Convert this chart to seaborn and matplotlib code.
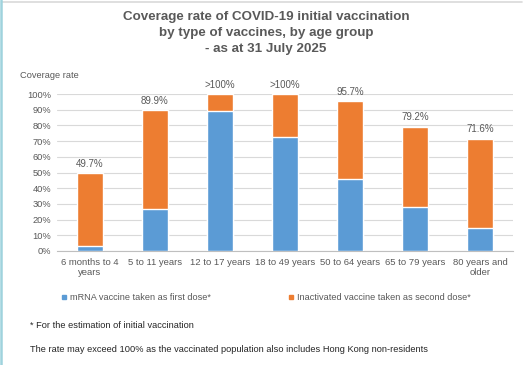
import numpy as np
import pandas as pd
import seaborn as sns
import matplotlib.pyplot as plt
import matplotlib.ticker as ticker
from matplotlib.lines import Line2D

# data
age_groups = ["6 months to 4\nyears", "5 to 11 years", "12 to 17 years", "18 to 49 years",
              "50 to 64 years", "65 to 79 years", "80 years and\nolder"]
total_rate = [49.7, 89.9, 100.0, 100.0, 95.7, 79.2, 71.6]
mrna_rate = [3.5, 26.6, 89.2, 72.4, 45.7, 27.8, 14.8]
total_labels = ["49.7%", "89.9%", ">100%", ">100%", "95.7%", "79.2%", "71.6%"]

blue = "#5B9BD5"
orange = "#ED7D31"
grey_text = "#595959"

sns.set_style("white")
plt.rcParams['font.family'] = ['Liberation Sans', 'DejaVu Sans']

W, H = 532, 365
fig = plt.figure(figsize=(W / 100, H / 100), dpi=100)


def px(x0, y0, x1, y1):
    return [x0 / W, 1 - y1 / H, (x1 - x0) / W, (y1 - y0) / H]


ax = fig.add_axes(px(57, 94, 513, 251))

df = pd.DataFrame({"age": age_groups, "total": total_rate, "mrna": mrna_rate})
sns.barplot(data=df, x="age", y="total", color=orange, width=0.4, saturation=1, ax=ax, zorder=2)
sns.barplot(data=df, x="age", y="mrna", color=blue, width=0.4, saturation=1, ax=ax, zorder=3)

ax.bar_label(ax.containers[0], labels=total_labels, padding=3, fontsize=7, color=grey_text)

ax.set_ylim(0, 100)
ax.set_xlim(-0.5, len(age_groups) - 0.5)
ax.yaxis.set_major_locator(ticker.MultipleLocator(10))
ax.yaxis.set_major_formatter(ticker.FuncFormatter(lambda v, p: f"{int(v)}%"))
ax.grid(axis="y", color="#d9d9d9", linewidth=0.8, zorder=0)
ax.set_axisbelow(True)
ax.set_xlabel("")
ax.set_ylabel("")
for s in ["top", "right", "left"]:
    ax.spines[s].set_visible(False)
ax.spines["bottom"].set_color("#bfbfbf")
ax.spines["bottom"].set_linewidth(0.8)
ax.tick_params(axis="y", length=0, labelsize=6.7, labelcolor=grey_text, pad=4)
ax.tick_params(axis="x", length=0, labelsize=6.8, labelcolor=grey_text, pad=5)
ax.set_xticks(np.arange(-0.5, len(age_groups)), minor=True)
ax.tick_params(axis="x", which="minor", length=4, color="#bfbfbf", width=0.8)

fig.text(0.5, 1 - 33 / H, "Coverage rate of COVID-19 initial vaccination\nby type of vaccines, by age group\n- as at 31 July 2025",
         ha="center", va="center", fontsize=9.6, fontweight="bold", color=grey_text, linespacing=1.4)
fig.text(20 / W, 1 - 76 / H, "Coverage rate", ha="left", va="center", fontsize=6.7, color=grey_text)

handles = [Line2D([], [], marker="s", color=blue, linestyle="", markersize=3.5),
           Line2D([], [], marker="s", color=orange, linestyle="", markersize=3.5)]
fig.legend(handles, ["mRNA vaccine taken as first dose*", "Inactivated vaccine taken as second dose*"],
           loc="center", bbox_to_anchor=(0.5, 1 - 298 / H), ncol=2, frameon=False,
           fontsize=6.6, labelcolor=grey_text, handlelength=0.6, handletextpad=0.3, columnspacing=8.5)

fig.text(30 / W, 1 - 325 / H, "* For the estimation of initial vaccination", fontsize=6.7, color="#262626", va="center")
fig.text(30 / W, 1 - 349 / H, "The rate may exceed 100% as the vaccinated population also includes Hong Kong non-residents",
         fontsize=6.7, color="#262626", va="center")

# frame lines at the top and left edge
fig.add_artist(Line2D([2 / W, 522 / W], [1 - 1.5 / H, 1 - 1.5 / H], color="#d9d9d9", linewidth=1.2))
fig.add_artist(Line2D([1 / W, 1 / W], [0, 1], color="#9fd3dd", linewidth=1.8))

fig.savefig("out.png", dpi=100)
